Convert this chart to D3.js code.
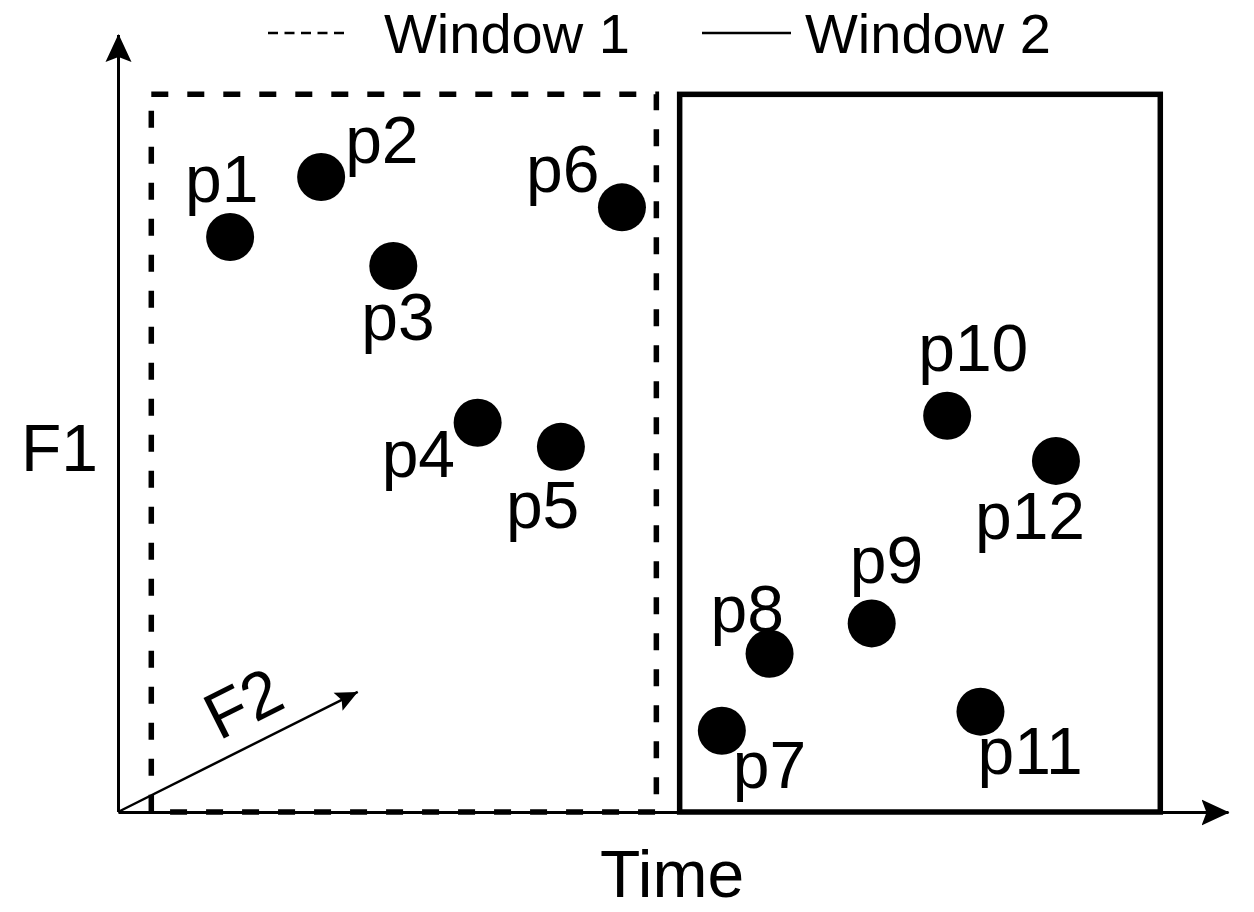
<!DOCTYPE html>
<html>
<head>
<meta charset="utf-8">
<script src="https://cdn.jsdelivr.net/npm/d3@7"></script>
<style>
  html, body { margin: 0; padding: 0; background: #fff; }
  svg { display: block; font-family: "Liberation Sans", Arial, sans-serif; }
</style>
</head>
<body>
<svg width="1254" height="912"></svg>
<script>
// the data
const pointLabels = ["p1", "p2", "p3", "p4", "p5", "p6", "p7", "p8", "p9", "p10", "p11", "p12"];
const pointTime = [1.01, 1.83, 2.48, 3.24, 3.99, 4.54, 5.44, 5.87, 6.79, 7.47, 7.77, 8.45];
const pointF1 = [8.14, 8.99, 7.73, 5.51, 5.17, 8.56, 1.15, 2.24, 2.67, 5.61, 1.42, 4.97];

const windowNames = ["Window 1", "Window 2"];
const windowStart = [0.30, 5.06];
const windowEnd = [4.85, 9.39];
const windowTop = [10.16, 10.16];

// F2 (depth) axis drawn as a diagonal arrow
const f2Tip = { time: 2.16, f1: 1.70 };

const points = pointLabels.map((label, i) => ({ label, time: pointTime[i], f1: pointF1[i] }));

// label placement relative to each dot (px: text start, baseline)
const labelOffset = {
  p1: [-45, -35], p2: [24, -14], p3: [-32, 74], p4: [-96, 54],
  p5: [-55, 81], p6: [-96, -15], p7: [11, 57], p8: [-59, -22],
  p9: [-22, -40], p10: [-29, -45], p11: [-3, 62], p12: [-81, 78],
};

const LABEL_SIZE = 66;
const LEGEND_SIZE = 56;
const DOT_R = 24;

let svg = d3.select("svg");

let x = d3.scaleLinear().domain([0, 10]).range([118, 1228]);
let y = d3.scaleLinear().domain([0, 11]).range([812, 35]);

//////////// MARKERS ////////////
let defs = svg.append("defs");
defs.append("marker")
  .attr("id", "bigArrow")
  .attr("markerUnits", "userSpaceOnUse")
  .attr("viewBox", "0 -14 28 28")
  .attr("refX", 27)
  .attr("refY", 0)
  .attr("markerWidth", 28)
  .attr("markerHeight", 28)
  .attr("orient", "auto")
  .append("path")
  .attr("d", "M0,-13 L28,0 L0,13 L5,0 Z")
  .attr("fill", "black");

defs.append("marker")
  .attr("id", "smallArrow")
  .attr("markerUnits", "userSpaceOnUse")
  .attr("viewBox", "0 -11 22 22")
  .attr("refX", 22)
  .attr("refY", 0)
  .attr("markerWidth", 22)
  .attr("markerHeight", 22)
  .attr("orient", "auto")
  .append("path")
  .attr("d", "M0,-10 L22,0 L0,10 L4,0 Z")
  .attr("fill", "black");

//////////// WINDOWS ////////////
const windows = windowNames.map((name, i) => ({
  name, start: windowStart[i], end: windowEnd[i], top: windowTop[i], dashed: i === 0,
}));

svg.selectAll(".window")
  .data(windows)
  .enter()
  .append("rect")
  .attr("class", "window")
  .attr("x", (d) => x(d.start))
  .attr("y", (d) => y(d.top))
  .attr("width", (d) => x(d.end) - x(d.start))
  .attr("height", (d) => y(0) - y(d.top))
  .attr("fill", "none")
  .attr("stroke", "black")
  .attr("stroke-width", 5.5)
  .attr("stroke-dasharray", (d) => (d.dashed ? "17,19" : null));

//////////// AXES ////////////
let xAxis = svg.append("g")
  .attr("transform", `translate(0,${y(0)})`)
  .call(d3.axisBottom(x).tickValues([]).tickSizeOuter(0));
xAxis.select(".domain")
  .attr("stroke-width", 3)
  .attr("marker-end", "url(#bigArrow)");

let yAxis = svg.append("g")
  .attr("transform", `translate(${x(0)},0)`)
  .call(d3.axisLeft(y).tickValues([]).tickSizeOuter(0));
// axisLeft draws top->bottom, flip so the arrow sits at the top
yAxis.select(".domain")
  .attr("d", `M0.5,${y(0)}V${y(11)}`)
  .attr("stroke-width", 3)
  .attr("marker-end", "url(#bigArrow)");

svg.append("line")
  .attr("x1", x(0))
  .attr("y1", y(0))
  .attr("x2", x(f2Tip.time))
  .attr("y2", y(f2Tip.f1))
  .attr("stroke", "black")
  .attr("stroke-width", 2.5)
  .attr("marker-end", "url(#smallArrow)");

const f2Angle = Math.atan2(y(f2Tip.f1) - y(0), x(f2Tip.time) - x(0)) * 180 / Math.PI;
svg.append("text")
  .attr("transform", `translate(219,741) rotate(${f2Angle})`)
  .attr("font-size", LABEL_SIZE)
  .text("F2");

svg.append("text")
  .attr("x", 21)
  .attr("y", 471)
  .attr("font-size", LABEL_SIZE)
  .text("F1");

svg.append("text")
  .attr("x", 600)
  .attr("y", 897)
  .attr("font-size", LABEL_SIZE)
  .text("Time");

//////////// POINTS ////////////
let node = svg.selectAll(".pt")
  .data(points)
  .enter()
  .append("g")
  .attr("class", "pt")
  .attr("transform", (d) => `translate(${x(d.time)},${y(d.f1)})`);

node.append("circle")
  .attr("r", DOT_R)
  .attr("fill", "black");

node.append("text")
  .attr("x", (d) => labelOffset[d.label][0])
  .attr("y", (d) => labelOffset[d.label][1])
  .attr("font-size", LABEL_SIZE)
  .text((d) => d.label);

//////////// LEGEND ////////////
let legend = svg.append("g");
const legendItems = [
  { name: windowNames[0], x1: 268, x2: 349, tx: 384, dashed: true },
  { name: windowNames[1], x1: 702, x2: 791, tx: 805, dashed: false },
];
legend.selectAll("line")
  .data(legendItems)
  .enter()
  .append("line")
  .attr("x1", (d) => d.x1)
  .attr("x2", (d) => d.x2)
  .attr("y1", 33)
  .attr("y2", 33)
  .attr("stroke", "black")
  .attr("stroke-width", 2.5)
  .attr("stroke-dasharray", (d) => (d.dashed ? "10,6.5" : null));
legend.selectAll("text")
  .data(legendItems)
  .enter()
  .append("text")
  .attr("x", (d) => d.tx)
  .attr("y", 53)
  .attr("font-size", LEGEND_SIZE)
  .text((d) => d.name);
</script>
</body>
</html>
